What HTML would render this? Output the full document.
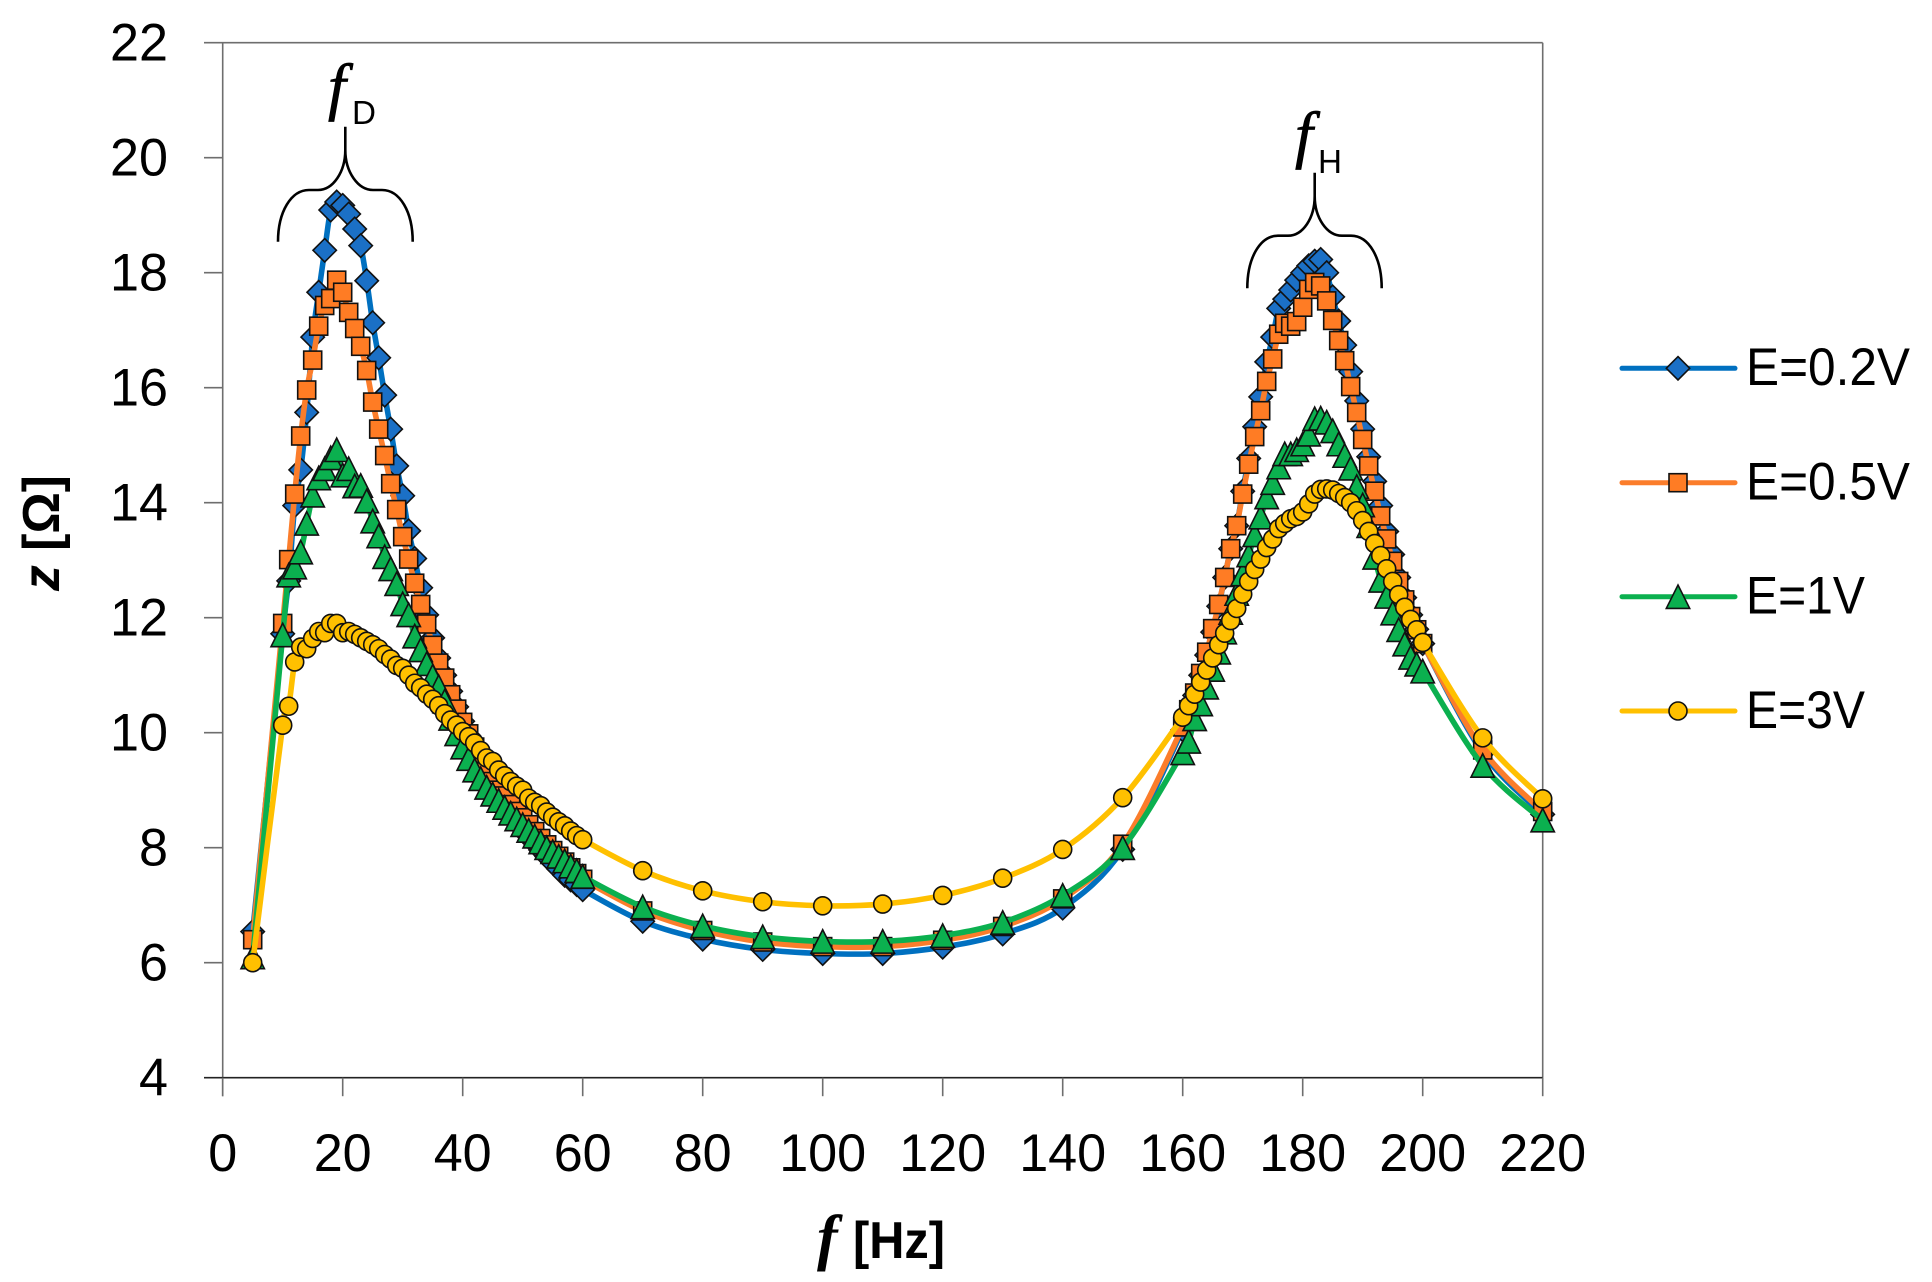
<!DOCTYPE html>
<html lang="en">
<head>
<meta charset="utf-8">
<title>Impedance vs frequency</title>
<style>
html,body{margin:0;padding:0;background:#fff;width:1932px;height:1282px;overflow:hidden}
svg{display:block}
text{fill:#000;font-family:"Liberation Sans",sans-serif}
</style>
</head>
<body>
<svg id="chart" width="1932" height="1282" viewBox="0 0 1932 1282" xmlns="http://www.w3.org/2000/svg">
  <g id="series-layer"></g>
  <g id="axis-layer"></g>
  <g id="legend-layer"></g>

  <g>
    <path d="M278,241.7 C278,212 291,190 309,190 L318,190 C333,190 345.3,172 345.3,150 L345.3,126.7 L345.3,150 C345.3,172 358,190 373,190 L382,190 C400,190 412.7,212 412.7,241.7" fill="none" stroke="#000" stroke-width="2.6"/>
    <text x="328" y="108" stroke="#000" stroke-width="0.8" style="font-family:'Liberation Serif',serif;font-style:italic;font-size:64px">f</text>
    <text x="352" y="124" style="font-size:33px" textLength="24" lengthAdjust="spacingAndGlyphs">D</text>
  </g>
  <g>
    <path d="M1247.3,288.3 C1247.3,258 1260,235.7 1278,235.7 L1288,235.7 C1303,235.7 1314.7,218 1314.7,196 L1314.7,172.7 L1314.7,196 C1314.7,218 1327,235.7 1342,235.7 L1351,235.7 C1369,235.7 1381.7,258 1381.7,288.3" fill="none" stroke="#000" stroke-width="2.6"/>
    <text x="1295" y="156" stroke="#000" stroke-width="0.8" style="font-family:'Liberation Serif',serif;font-style:italic;font-size:64px">f</text>
    <text x="1318" y="173" style="font-size:33px" textLength="24" lengthAdjust="spacingAndGlyphs">H</text>
  </g>

  <g>
    <text x="817" y="1258" style="font-family:'Liberation Serif',serif;font-style:italic;font-weight:bold;font-size:62px">f</text>
    <text x="853" y="1258" style="font-weight:bold;font-size:52px" textLength="92" lengthAdjust="spacingAndGlyphs">[Hz]</text>
  </g>
  <text transform="translate(59,591) rotate(-90)" style="font-weight:bold;font-size:52px" textLength="116" lengthAdjust="spacingAndGlyphs"><tspan style="font-style:italic">z</tspan> [Ω]</text>
</svg>

<script>
const freqs = [5,
  10,11,12,13,14,15,16,17,18,19,20,21,22,23,24,25,26,27,28,29,30,
  31,32,33,34,35,36,37,38,39,40,41,42,43,44,45,46,47,48,49,50,
  51,52,53,54,55,56,57,58,59,60,
  70,80,90,100,110,120,130,140,150,
  160,161,162,163,164,165,166,167,168,169,170,
  171,172,173,174,175,176,177,178,179,180,
  181,182,183,184,185,186,187,188,189,190,
  191,192,193,194,195,196,197,198,199,200,
  210,220];

const blueValues = [6.54,
  11.72,12.64,13.95,14.57,15.57,16.88,17.66,18.39,19.09,19.23,19.17,
  19.02,18.76,18.47,17.86,17.13,16.52,15.87,15.28,14.64,14.12,
  13.51,13.03,12.52,12.05,11.65,11.3,11.0,10.72,10.45,10.2,
  9.95,9.7,9.47,9.27,9.07,8.9,8.73,8.58,8.45,8.32,
  8.2,8.08,7.96,7.85,7.74,7.63,7.52,7.44,7.36,7.27,
  6.72,6.41,6.23,6.16,6.16,6.27,6.5,6.95,7.97,
  10.05,10.35,10.65,11.0,11.35,11.75,12.2,12.7,13.2,13.6,14.2,
  14.77,15.32,15.84,16.45,16.88,17.38,17.54,17.7,17.87,18.0,
  18.12,18.2,18.23,18.0,17.58,17.16,16.74,16.28,15.77,15.28,
  14.8,14.37,13.95,13.5,13.1,12.7,12.35,12.05,11.8,11.55,
  9.65,8.58];

const orangeValues = [6.4,
  11.9,13.01,14.15,15.16,15.96,16.48,17.07,17.43,17.55,17.87,17.66,
  17.31,17.03,16.72,16.3,15.75,15.28,14.82,14.33,13.88,13.41,
  13.02,12.6,12.23,11.89,11.52,11.21,10.95,10.66,10.41,10.18,
  9.98,9.75,9.53,9.33,9.15,9.0,8.9,8.75,8.63,8.52,
  8.4,8.28,8.16,8.05,7.95,7.85,7.75,7.65,7.55,7.45,
  6.9,6.56,6.36,6.28,6.28,6.39,6.63,7.11,8.06,
  10.1,10.4,10.69,11.03,11.4,11.81,12.23,12.7,13.2,13.6,14.15,
  14.67,15.15,15.6,16.11,16.5,16.93,17.12,17.07,17.15,17.4,
  17.71,17.83,17.77,17.51,17.17,16.82,16.47,16.02,15.57,15.1,
  14.64,14.2,13.77,13.37,12.98,12.63,12.31,12.02,11.79,11.55,
  9.7,8.63];

const greenValues = [6.1,
  11.7,12.74,12.88,13.14,13.64,14.13,14.43,14.59,14.78,14.92,14.48,
  14.59,14.29,14.3,14.03,13.68,13.42,13.06,12.85,12.59,12.24,
  12.05,11.68,11.44,11.2,10.98,10.8,10.55,10.25,9.98,9.75,
  9.55,9.35,9.2,9.05,8.93,8.82,8.7,8.6,8.5,8.4,
  8.3,8.2,8.1,8.0,7.93,7.85,7.77,7.68,7.6,7.5,
  6.97,6.64,6.45,6.37,6.37,6.47,6.7,7.17,8.0,
  9.65,9.85,10.24,10.5,10.79,11.1,11.4,11.75,12.09,12.42,12.76,
  13.09,13.44,13.75,14.1,14.35,14.62,14.85,14.85,14.92,15.02,
  15.19,15.46,15.47,15.4,15.25,15.02,14.82,14.6,14.28,13.96,
  13.6,13.05,12.65,12.37,12.08,11.79,11.54,11.31,11.19,11.07,
  9.43,8.48];

const yellowValues = [6.0,
  10.13,10.46,11.23,11.49,11.46,11.64,11.76,11.74,11.9,11.9,11.74,
  11.76,11.71,11.65,11.59,11.53,11.46,11.36,11.28,11.17,11.12,
  11.0,10.86,10.78,10.67,10.58,10.47,10.33,10.22,10.13,10.02,
  9.93,9.82,9.69,9.56,9.5,9.35,9.25,9.15,9.07,9.0,
  8.86,8.79,8.73,8.62,8.53,8.45,8.38,8.29,8.21,8.14,
  7.6,7.25,7.06,6.99,7.02,7.17,7.47,7.97,8.87,
  10.27,10.47,10.67,10.88,11.09,11.3,11.53,11.73,11.95,12.16,12.41,
  12.63,12.84,13.02,13.22,13.37,13.55,13.64,13.72,13.76,13.84,
  13.98,14.15,14.23,14.24,14.22,14.16,14.09,14.0,13.86,13.69,
  13.5,13.29,13.08,12.85,12.63,12.4,12.18,11.97,11.79,11.57,
  9.91,8.85];

const xTickLabels = [0,20,40,60,80,100,120,140,160,180,200,220];
const yTickLabels = [4,6,8,10,12,14,16,18,20,22];
const seriesNames = ['E=0.2V','E=0.5V','E=1V','E=3V'];

const NS = 'http://www.w3.org/2000/svg';
const plotLeft = 222.7, plotRight = 1542.7, plotTop = 42.7, plotBottom = 1077.7;
const xMin = 0, xMax = 220, yMin = 4, yMax = 22;
const xScale = v => plotLeft + (v - xMin) / (xMax - xMin) * (plotRight - plotLeft);
const yScale = v => plotBottom - (v - yMin) / (yMax - yMin) * (plotBottom - plotTop);

function make(tag, attrs, parent) {
  const el = document.createElementNS(NS, tag);
  for (const k in attrs) el.setAttribute(k, attrs[k]);
  parent.appendChild(el);
  return el;
}

function smoothPath(xs, ys) {
  const pts = xs.map((x, i) => [xScale(x), yScale(ys[i])]);
  let d = 'M' + pts[0][0].toFixed(2) + ',' + pts[0][1].toFixed(2);
  for (let i = 0; i < pts.length - 1; i++) {
    const p0 = pts[Math.max(i - 1, 0)], p1 = pts[i], p2 = pts[i + 1], p3 = pts[Math.min(i + 2, pts.length - 1)];
    const c1x = p1[0] + (p2[0] - p0[0]) / 6, c1y = p1[1] + (p2[1] - p0[1]) / 6;
    const c2x = p2[0] - (p3[0] - p1[0]) / 6, c2y = p2[1] - (p3[1] - p1[1]) / 6;
    d += 'C' + c1x.toFixed(2) + ',' + c1y.toFixed(2) + ' ' + c2x.toFixed(2) + ',' + c2y.toFixed(2) + ' ' + p2[0].toFixed(2) + ',' + p2[1].toFixed(2);
  }
  return d;
}

function drawMarker(kind, cx, cy, fill, parent) {
  let el;
  if (kind === 'diamond') {
    el = make('path', {d: 'M' + cx + ',' + (cy - 11.7) + 'L' + (cx + 11.7) + ',' + cy + 'L' + cx + ',' + (cy + 11.7) + 'L' + (cx - 11.7) + ',' + cy + 'Z'}, parent);
  } else if (kind === 'square') {
    el = make('rect', {x: cx - 9, y: cy - 9, width: 18, height: 18}, parent);
  } else if (kind === 'triangle') {
    el = make('path', {d: 'M' + cx + ',' + (cy - 11.7) + 'L' + (cx + 11.7) + ',' + (cy + 11.7) + 'L' + (cx - 11.7) + ',' + (cy + 11.7) + 'Z'}, parent);
  } else {
    el = make('circle', {cx: cx, cy: cy, r: 9}, parent);
  }
  el.setAttribute('fill', fill);
  el.setAttribute('stroke', '#111');
  el.setAttribute('stroke-width', '1.6');
  el.setAttribute('stroke-linejoin', 'miter');
  return el;
}

const seriesLayer = document.getElementById('series-layer');
const legendLayer = document.getElementById('legend-layer');
const axisLayer = document.getElementById('axis-layer');

const seriesValues = [blueValues, orangeValues, greenValues, yellowValues];
const seriesLineColors = ['#0070c0', '#fb7d2b', '#0bb04f', '#ffc000'];
const seriesFillColors = ['#1b70c6', '#ff7c24', '#0bb04f', '#ffc000'];
const seriesMarkers = ['diamond', 'square', 'triangle', 'circle'];
const seriesKeys = ['e-0-2v', 'e-0-5v', 'e-1v', 'e-3v'];

seriesValues.forEach((vals, s) => {
  const g = make('g', {}, seriesLayer);
  
  
  const line = make('path', {d: smoothPath(freqs, vals), fill: 'none', stroke: seriesLineColors[s], 'stroke-width': 5.6, 'stroke-linecap': 'round', 'stroke-linejoin': 'round'}, g);
  
  
  vals.forEach((v, i) => {
    const m = drawMarker(seriesMarkers[s], xScale(freqs[i]), yScale(v), seriesFillColors[s], g);
    
    
  });
});

/* plot frame */
const frameLeft = make('line', {x1: plotLeft, x2: plotLeft, y1: plotTop, y2: plotBottom + 18.5, stroke: '#6e6e6e', 'stroke-width': 1.6}, axisLayer);


const frameTop = make('line', {x1: plotLeft - 18.7, x2: plotRight, y1: plotTop, y2: plotTop, stroke: '#6e6e6e', 'stroke-width': 1.6}, axisLayer);


const frameRight = make('line', {x1: plotRight, x2: plotRight, y1: plotTop, y2: plotBottom, stroke: '#6e6e6e', 'stroke-width': 1.6}, seriesLayer);
seriesLayer.insertBefore(frameRight, seriesLayer.firstChild);


const frameBottom = make('line', {x1: plotLeft - 18.7, x2: plotRight, y1: plotBottom, y2: plotBottom, stroke: '#222', 'stroke-width': 1.6}, axisLayer);



xTickLabels.forEach(t => {
  const px = xScale(t);
  const tick = make('line', {x1: px, x2: px, y1: plotBottom, y2: plotBottom + 18.5, stroke: '#6e6e6e', 'stroke-width': 1.6}, axisLayer);
  
  
  const label = make('text', {x: px, y: 1171, 'text-anchor': 'middle', style: 'font-size:53px', textLength: String(t).length * 29, lengthAdjust: 'spacingAndGlyphs'}, axisLayer);
  
  
  label.textContent = t;
});

yTickLabels.forEach(t => {
  const py = yScale(t);
  if (t !== 4 && t !== 22) {
    const tick = make('line', {x1: plotLeft - 18.7, x2: plotLeft, y1: py, y2: py, stroke: '#6e6e6e', 'stroke-width': 1.6}, axisLayer);
    
    
  }
  const label = make('text', {x: 168, y: py + 17.6, 'text-anchor': 'end', style: 'font-size:53px', textLength: String(t).length * 29, lengthAdjust: 'spacingAndGlyphs'}, axisLayer);
  
  
  label.textContent = t;
});

/* legend */
const legendY = [368.3, 482.7, 596.7, 711];
const legendWidths = [164, 164, 119, 119];
seriesNames.forEach((name, s) => {
  const g = make('g', {}, legendLayer);
  
  
  const y = legendY[s];
  const line = make('line', {x1: 1622, x2: 1735, y1: y, y2: y, stroke: seriesLineColors[s], 'stroke-width': 5, 'stroke-linecap': 'round'}, g);
  
  
  const m = drawMarker(seriesMarkers[s], 1678, y, seriesFillColors[s], g);
  
  
  const label = make('text', {x: 1746, y: y + 16.8, style: 'font-size:53px', textLength: legendWidths[s], lengthAdjust: 'spacingAndGlyphs'}, g);
  
  
  label.textContent = name;
});
</script>
</body>
</html>
